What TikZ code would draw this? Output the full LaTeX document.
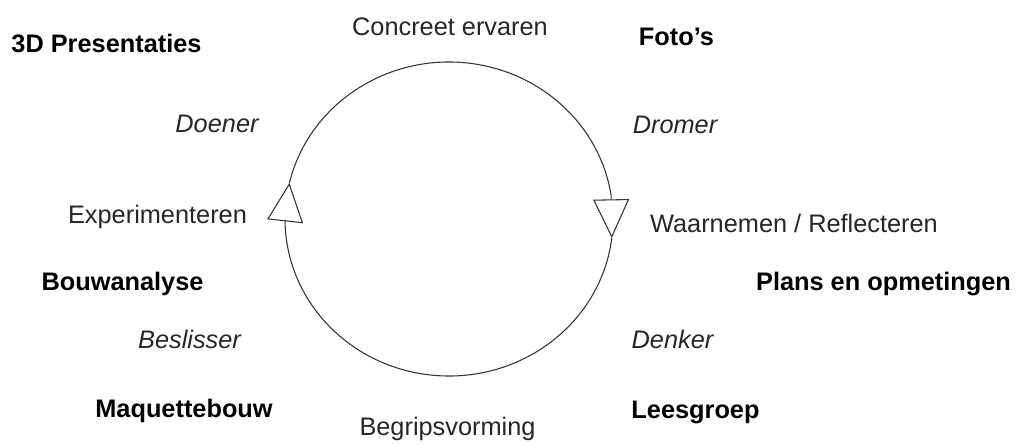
\documentclass[tikz,border=0pt]{standalone}
\usepackage{fontspec}
\setmainfont{Liberation Sans}
\usetikzlibrary{arrows.meta,calc}

\begin{document}
\begin{tikzpicture}[
  x=0.75pt, y=0.75pt,
  font=\fontsize{19}{22}\selectfont,
  phase/.style={anchor=base, inner sep=0pt, text=black!85},
  role/.style={phase, font=\fontsize{19}{22}\selectfont\itshape},
  work/.style={phase, font=\fontsize{19}{22}\selectfont\bfseries, text=black},
  cyc/.style={draw=black!80, line width=0.8pt,
              -{Triangle[open, length=29pt, width=27pt, line width=0.8pt]}}
]
\useasboundingbox (0,0) rectangle (1017,-444);
% ----- learning cycle -----
\coordinate (ctr) at (449,-219);
\coordinate (ltip) at ($(ctr)+(166.7:123pt and 117.75pt)$);
\coordinate (rtip) at ($(ctr)+(-6.95:123pt and 117.75pt)$);
\draw[cyc] (ltip) arc[start angle=166.7, end angle=8.8, x radius=123pt, y radius=117.75pt] -- (rtip);
\draw[cyc] (rtip) arc[start angle=-6.95, end angle=-178.9, x radius=123pt, y radius=117.75pt] -- (ltip);
% ----- phases -----
\node[phase] (concreet) at (450,-35)  {Concreet ervaren};
\node[phase] (waarn)    at (794,-232) {Waarnemen / Reflecteren};
\node[phase] (begrip)   at (447.5,-435) {Begripsvorming};
\node[phase] (exper)    at (157.5,-223) {Experimenteren};
% ----- roles -----
\node[role] (doener)    at (217,-132) {Doener};
\node[role] (dromer)    at (675,-133) {Dromer};
\node[role] (denker)    at (672.5,-348) {Denker};
\node[role] (beslis)    at (189.5,-348) {Beslisser};
% ----- work forms -----
\node[work] (pres)      at (106.5,-52) {3D Presentaties};
\node[work] (fotos)     at (676.5,-45) {Foto's};
\node[work] (bouwan)    at (122.5,-290) {Bouwanalyse};
\node[work] (plans)     at (883.5,-290) {Plans en opmetingen};
\node[work] (maquette)  at (184,-417) {Maquettebouw};
\node[work] (lees)      at (695.5,-418) {Leesgroep};
\end{tikzpicture}
\end{document}
